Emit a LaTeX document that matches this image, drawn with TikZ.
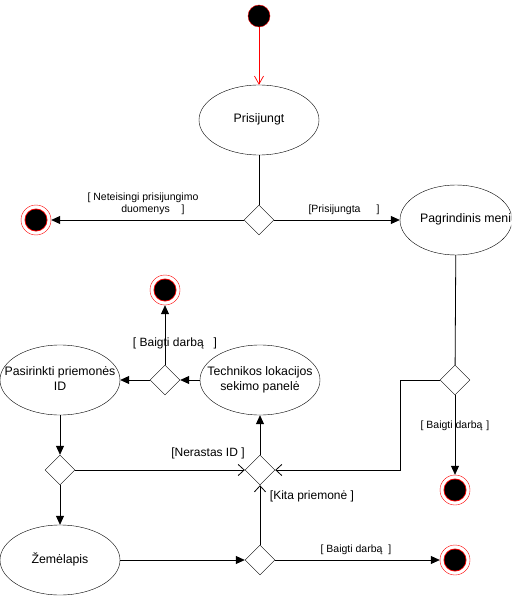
\documentclass[tikz,border=0pt]{standalone}
\usepackage{fontspec}
\setmainfont{Liberation Sans}
\usetikzlibrary{shapes.geometric,arrows.meta}
\newcommand{\acttext}[1]{\makebox[0pt][c]{\begin{tabular}{@{}c@{}}#1\end{tabular}}}
\begin{document}
\begin{tikzpicture}[x=1pt,y=-1pt,
  act/.style={draw,ellipse,minimum width=120pt,minimum height=70pt,inner sep=0pt,font=\fontsize{12.3}{14.3}\selectfont},
  dec/.style={draw,diamond,minimum width=30pt,minimum height=30pt,inner sep=0pt,fill=white},
  startst/.style={circle,draw=red,fill=black,minimum size=22pt,inner sep=0pt},
  endst/.style={circle,draw=red,fill=white,minimum size=30pt,inner sep=0pt,
    path picture={\fill[red] (path picture bounding box.center) circle (11.5pt);
                  \fill[black] (path picture bounding box.center) circle (10.6pt);}},
  flow/.style={-{Triangle[length=9pt,width=8pt]},line width=0.8pt},
  vflow/.style={-{Straight Barb[length=6pt,width=11pt]},line width=0.8pt},
  plain/.style={line width=0.8pt},
  lbl/.style={font=\fontsize{10.5}{12.5}\selectfont,inner sep=0pt,align=center},
  lblb/.style={font=\fontsize{12}{14}\selectfont,inner sep=0pt,align=center}]
\clip (0,0) rectangle (511,596);
\useasboundingbox (0,0) rectangle (511,596);
% nodes
\node[startst] (start) at (259,16) {};
\node[act] (prisi) at (259,120) {\acttext{Prisijungt}};
\node[dec] (d1) at (259,220) {};
\node[endst] (e1) at (36,220) {};
\node[act,minimum width=112pt] (meniu) at (456,220) {\acttext{\hspace*{26pt}Pagrindinis meniu}};
\node[dec] (d2) at (455,380) {};
\node[endst] (e2) at (455,490) {};
\node[act] (tech) at (260,380) {\acttext{Technikos lokacijos\\sekimo panelė}};
\node[dec] (d3) at (165,380) {};
\node[endst] (e3) at (165,290) {};
\node[act] (pas) at (60,380) {\acttext{Pasirinkti priemonės\\ID}};
\node[dec] (d4) at (60,470) {};
\node[dec] (cx) at (260,470) {};
\node[act] (zem) at (60,560) {\acttext{Žemėlapis}};
\node[dec] (d5) at (260,560) {};
\node[endst] (e4) at (455,560) {};
\coordinate (b1) at (400,380);
\coordinate (b2) at (400,470);
% connectors
\draw[red,line width=0.7pt,-{Straight Barb[length=8pt,width=9pt]}] (start) -- (prisi);
\draw[plain] (prisi) -- (d1);
\draw[flow] (d1) -- (e1);
\draw[flow] (d1) -- (meniu);
\draw[plain] (meniu) -- (d2);
\draw[flow] (d2) -- (e2);
\draw[vflow] (d2.west) -- (b1) -- (b2) -- (cx.east);
\draw[flow] (tech) -- (d3);
\draw[flow] (d3) -- (pas);
\draw[flow] (d3) -- (e3);
\draw[flow] (pas) -- (d4);
\draw[vflow] (d4) -- (cx.west);
\draw[flow] (d4) -- (zem);
\draw[flow] (cx) -- (tech);
\draw[flow] (zem) -- (d5);
\draw[vflow] (d5) -- (cx.south);
\draw[flow] (d5) -- (e4);
% labels
\node[lbl] (l1) at (143,204) {[ Neteisingi prisijungimo\\\hspace*{20pt}duomenys\hspace*{12pt}]};
\node[lbl] (l2) at (344,210) {[Prisijungta\hspace*{16pt}]};
\node[lblb] (l3) at (175,343) {[ Baigti darbą\hspace*{10pt}]};
\node[lbl] (l4) at (455,426) {[ Baigti darbą\hspace*{4pt}]};
\node[lblb] (l5) at (208,453) {[Nerastas ID ]};
\node[lblb] (l6) at (312,496) {[Kita priemonė ]};
\node[lbl] (l7) at (356,550) {[ Baigti darbą\hspace*{6pt}]};
\end{tikzpicture}
\end{document}
